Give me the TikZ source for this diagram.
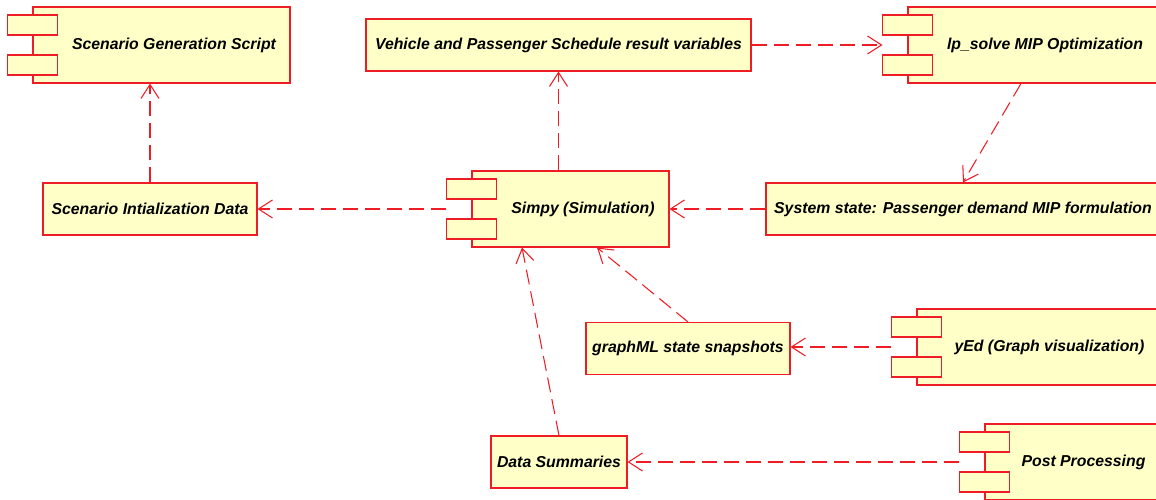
\documentclass[tikz,border=0pt]{standalone}
\usepackage{fontspec}
\setmainfont{Liberation Sans}
\usepackage{tikz}
\usetikzlibrary{arrows.meta}
\usetikzlibrary{positioning}
\definecolor{UmlBox}{RGB}{255,255,200}
\definecolor{UmlLine}{RGB}{238,28,36}
\tikzset{
    artifact/.style={
      rectangle,
      fill=UmlBox,
      draw=UmlLine,
      line width=0.6pt,
      minimum height=1.04cm,
      inner sep=0pt,
      text=black,
      font=\fontsize{9}{11}\selectfont\bfseries\itshape
    },
    component/.style={
      artifact,
      minimum height=1.52cm,
      execute at begin node={\hspace*{5mm}}
    },
    tab/.style={
      fill=UmlBox,
      draw=UmlLine,
      line width=0.6pt
    },
    dep/.style={
      draw=UmlLine,
      line width=0.6pt,
      dash pattern=on 0.3cm off 0.14cm,
      -{Straight Barb[length=0.28cm,width=0.36cm]}
    },
}
\newcommand{\comptabs}[1]{%
  \draw[tab] ([shift={(-0.5,0.2)}]#1.west) rectangle ++(1,0.4);
  \draw[tab] ([shift={(-0.5,-0.2)}]#1.west) rectangle ++(1,-0.4);
}

\begin{document}
\begin{tikzpicture}

    \clip (0,0) rectangle (23.12,10);
    \fill[white] (0,0) rectangle (23.12,10);

    % components
    \node[component, minimum width=5.14cm] at (3.23,9.1) (gen) {Scenario Generation Script};
    \node[component, minimum width=4.98cm] at (20.65,9.1) (lpsolve) {lp\_solve MIP Optimization};
    \node[component, minimum width=3.94cm] at (11.41,5.82) (simpy) {Simpy (Simulation)};
    \node[component, minimum width=4.80cm] at (20.74,3.06) (yed) {yEd (Graph visualization)};
    \node[component, minimum width=3.44cm] at (21.42,0.76) (post) {Post Processing};
    \comptabs{gen}
    \comptabs{lpsolve}
    \comptabs{simpy}
    \comptabs{yed}
    \comptabs{post}

    % data
    \node[artifact, minimum width=7.70cm] at (11.17,9.1) (vars) {Vehicle and Passenger Schedule result variables};
    \node[artifact, minimum width=4.28cm] at (3.00,5.82) (init) {Scenario Intialization Data};
    \node[artifact, minimum width=7.88cm] at (19.26,5.82) (state) {System state: Passenger demand MIP formulation};
    \node[artifact, minimum width=4.08cm] at (13.76,3.03) (graphml) {graphML state snapshots};
    \node[artifact, minimum width=2.72cm] at (11.18,0.76) (summ) {Data Summaries};

    % dependencies
    \draw[dep] (init.north) -- (init.north |- gen.south);
    \draw[dep] ([xshift=-0.5cm]simpy.west) -- (init.east);
    \draw[dep] (vars.south |- simpy.north) -- (vars.south);
    \draw[dep] (vars.east) -- ([xshift=-0.5cm]lpsolve.west);
    \draw[dep] ([xshift=-0.23cm]lpsolve.south) -- (state.north);
    \draw[dep] (state.west) -- (simpy.east);
    \draw[dep] (graphml.north) -- ([xshift=0.53cm]simpy.south);
    \draw[dep] (summ.north) -- ([xshift=-0.97cm]simpy.south);
    \draw[dep] ([xshift=-0.5cm]yed.west) -- (graphml.east |- yed.west);
    \draw[dep] ([xshift=-0.5cm]post.west) -- (summ.east);

\end{tikzpicture}
\end{document}
